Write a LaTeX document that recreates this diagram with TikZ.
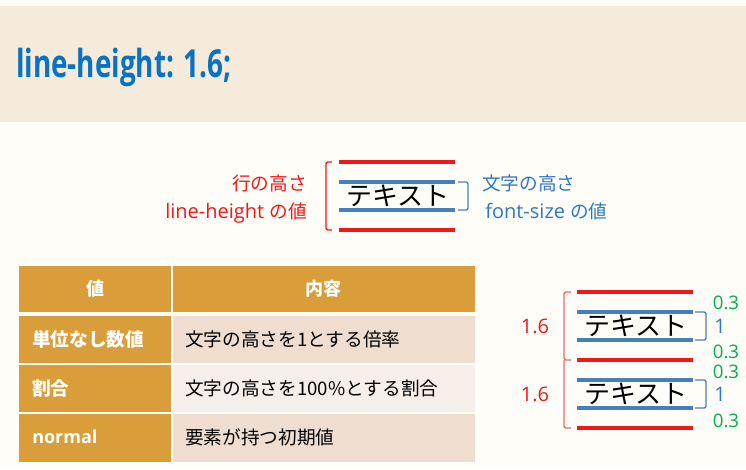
\documentclass[tikz,border=0pt]{standalone}
\usepackage{fontspec}
\setmainfont{Open Sans}
\newfontfamily\jp{Noto Sans CJK JP}
\usetikzlibrary{positioning}

\definecolor{pagebg}{HTML}{FFFDF8}
\definecolor{bandbg}{HTML}{F6EBDA}
\definecolor{titleblue}{HTML}{0A72C2}
\definecolor{lhred}{HTML}{F01818}
\definecolor{lhpink}{HTML}{EE6A6A}
\definecolor{fsblue}{HTML}{2C78C4}
\definecolor{fsline}{HTML}{4480BC}
\definecolor{halfgreen}{HTML}{00B050}
\definecolor{tabgold}{HTML}{D99E39}
\definecolor{rowdark}{HTML}{EFDED0}
\definecolor{rowlight}{HTML}{F6EEE9}

\tikzset{
  redline/.style={lhred, line width=2.5pt},
  blueline/.style={fsline, line width=2.5pt},
  redbrace/.style={lhred, line width=1pt, rounded corners=1.5pt},
  pinkbrace/.style={lhpink, line width=1pt, rounded corners=1.5pt},
  bluebrace/.style={fsline, line width=1pt, rounded corners=1.5pt},
  sample/.style={inner sep=0pt, font=\jp\fontsize{19.5pt}{20pt}\selectfont},
  redlabel/.style={text=lhred, inner sep=0pt, font=\fontsize{15pt}{16pt}\selectfont},
  bluelabel/.style={text=fsblue, inner sep=0pt, font=\fontsize{15pt}{16pt}\selectfont},
  greenlabel/.style={text=halfgreen, inner sep=0pt, font=\fontsize{14pt}{15pt}\selectfont},
  headtext/.style={text=white, inner sep=0pt, font=\bfseries\fontsize{13.5pt}{14pt}\selectfont},
  celltext/.style={inner sep=0pt, anchor=west, font=\jp\fontsize{14pt}{15pt}\selectfont}
}
\newcommand{\jpl}{\jp\fontsize{14pt}{15pt}\selectfont}

\begin{document}
\begin{tikzpicture}[x=0.75pt,y=-0.75pt]
	\useasboundingbox (0,0) rectangle (746,469);
	\fill[pagebg] (0,0) rectangle (746,469);

	% title band
	\fill[bandbg] (0,6) rectangle (746,122);
	\node[anchor=base west, inner sep=0pt, text=titleblue] (title) at (16,77)
		{\scalebox{0.72}[1]{\bfseries\fontsize{29pt}{30pt}\selectfont line-height: 1.6;}};

	% line-height and font-size
	\coordinate (lhTopL) at (339,162);
	\coordinate (lhTopR) at (455,162);
	\coordinate (lhBotL) at (339,230);
	\coordinate (lhBotR) at (455,230);
	\coordinate (fsTopL) at (339,182);
	\coordinate (fsTopR) at (455,182);
	\coordinate (fsBotL) at (339,210);
	\coordinate (fsBotR) at (455,210);
	\draw[redline] (lhTopL) -- (lhTopR);
	\draw[redline] (lhBotL) -- (lhBotR);
	\draw[blueline] (fsTopL) -- (fsTopR);
	\draw[blueline] (fsBotL) -- (fsBotR);
	\node[sample] (sampleTop) at (398,196) {テキスト};
	\draw[redbrace] (332,162) -- (326,162) -- (326,230) -- (332,230);
	\draw[bluebrace] (458,182) -- (468,182) -- (468,210) -- (458,210);

	\node[redlabel, anchor=base east] (lhName) at (307,190) {\jpl 行の高さ};
	\node[redlabel, anchor=base east] (lhValue) at (307,218) {line-height {\jpl の値}};
	\node[bluelabel, anchor=base west] (fsName) at (482,190) {\jpl 文字の高さ};
	\node[bluelabel, anchor=base west] (fsValue) at (485,218) {font-size {\jpl の値}};

	% table
	\fill[tabgold] (19,266) rectangle (171,312);
	\fill[tabgold] (173,266) rectangle (475,312);
	\fill[tabgold] (19,316) rectangle (171,363);
	\fill[rowdark] (173,316) rectangle (475,363);
	\fill[tabgold] (19,365) rectangle (171,412);
	\fill[rowlight] (173,365) rectangle (475,412);
	\fill[tabgold] (19,414) rectangle (171,462);
	\fill[rowdark] (173,414) rectangle (475,462);

	\node[headtext] (headValue) at (95,289) {\jp 値};
	\node[headtext] (headContent) at (323,289) {\jp 内容};
	\node[headtext, anchor=west] (valUnitless) at (32,339) {\jpl 単位なし数値};
	\node[headtext, anchor=west] (valPercent) at (32,388) {\jpl 割合};
	\node[headtext, anchor=west] (valNormal) at (32,437) {normal};
	\node[celltext] (txtUnitless) at (185,339) {文字の高さを1とする倍率};
	\node[celltext] (txtPercent) at (185,388) {文字の高さを100\%とする割合};
	\node[celltext] (txtNormal) at (185,437) {要素が持つ初期値};

	% two lines with line-height 1.6
	\foreach \ly/\nm in {292/a,360/b,428/c}{
		\coordinate (red\nm L) at (577,\ly);
		\coordinate (red\nm R) at (693,\ly);
		\draw[redline] (red\nm L) -- (red\nm R);
	}
	\foreach \ly/\nm in {312/a,340/b,380/c,408/d}{
		\coordinate (blue\nm L) at (577,\ly);
		\coordinate (blue\nm R) at (693,\ly);
		\draw[blueline] (blue\nm L) -- (blue\nm R);
	}
	\node[sample] (sampleOne) at (636,326) {テキスト};
	\node[sample] (sampleTwo) at (636,394) {テキスト};

	\draw[pinkbrace] (571,292) -- (564,292) -- (564,360) -- (571,360);
	\draw[pinkbrace] (564,360) -- (564,428) -- (571,428);
	\draw[bluebrace] (695,312) -- (706,312) -- (706,340) -- (695,340);
	\draw[bluebrace] (695,380) -- (706,380) -- (706,408) -- (695,408);

	\node[redlabel] (lhOne) at (535,326) {1.6};
	\node[redlabel] (lhTwo) at (535,394) {1.6};
	\node[bluelabel, anchor=west] (fsOne) at (714,326) {1};
	\node[bluelabel, anchor=west] (fsTwo) at (714,394) {1};
	\node[greenlabel] (halfA) at (726,303) {0.3};
	\node[greenlabel] (halfB) at (726,352) {0.3};
	\node[greenlabel] (halfC) at (726,372) {0.3};
	\node[greenlabel] (halfD) at (726,421) {0.3};
\end{tikzpicture}
\end{document}
